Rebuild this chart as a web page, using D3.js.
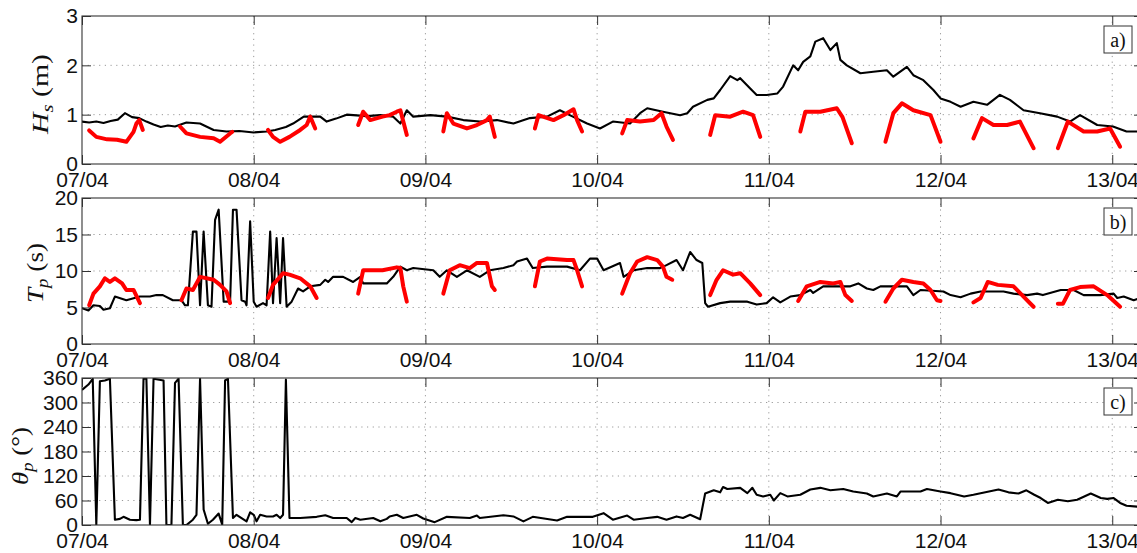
<!DOCTYPE html>
<html><head><meta charset="utf-8">
<script src="https://cdn.jsdelivr.net/npm/d3@7/dist/d3.min.js"></script>
<style>body{margin:0;background:#fff}svg{display:block}</style>
</head><body>
<svg id="chart" width="1137" height="553"></svg>
<script>
// time in hours since 07/04 00:00
const dayTicks = [0, 24, 48, 72, 96, 120, 144];
const dayLabels = ["07/04", "08/04", "09/04", "10/04", "11/04", "12/04", "13/04"];
const hsTicks = [0, 1, 2, 3];
const tpTicks = [0, 5, 10, 15, 20];
const thTicks = [0, 60, 120, 180, 240, 300, 360];
const panelTags = ["a)", "b)", "c)"];

// Panel a: Hs (m), black = model/offshore, red = measured segments
const hsBlack = [[0,0.86],[1,0.84],[2,0.86],[3,0.83],[4,0.87],[5,0.9],[6,1.03],[7,0.95],[8,0.93],[9,0.86],[10,0.8],[11,0.75],[12,0.78],[13,0.76],[14.6,0.84],[16.5,0.82],[18.4,0.69],[20.2,0.66],[22,0.67],[24,0.64],[25.8,0.66],[27,0.69],[28.5,0.75],[29.5,0.82],[31,0.96],[33.3,0.96],[34.2,0.86],[35.5,0.92],[37,1.0],[39.8,0.97],[41.7,0.99],[43.5,0.96],[44.5,0.82],[45.4,1.09],[46.3,0.96],[48.7,0.99],[51,0.96],[53.3,0.89],[55.6,0.86],[58,0.89],[60.3,0.82],[62.6,0.93],[65,0.96],[66.8,1.09],[68.6,0.96],[70.6,0.82],[72.4,0.72],[74.2,0.86],[76.6,0.82],[78,1.03],[79,1.13],[81.2,1.06],[83.6,0.99],[84.6,1.03],[85.4,1.16],[87.4,1.3],[88.3,1.33],[89.2,1.5],[90.6,1.78],[91.6,1.7],[92,1.74],[93.4,1.53],[94.3,1.4],[95.7,1.4],[97.2,1.43],[98,1.57],[99.4,2.0],[100.1,1.9],[100.8,2.07],[101.8,2.18],[102.5,2.48],[103.6,2.55],[104.6,2.31],[105.5,2.45],[106,2.11],[106.9,2.0],[108.8,1.84],[110.6,1.87],[112.5,1.9],[113.4,1.77],[115.3,1.97],[116.2,1.8],[117.6,1.7],[119,1.5],[120,1.33],[121.4,1.26],[122.8,1.16],[124.6,1.26],[126.5,1.2],[128.3,1.4],[129.7,1.3],[131.6,1.09],[133.9,1.03],[136.3,0.96],[138.1,0.86],[139.5,0.99],[141.9,0.79],[144.1,0.76],[146,0.66],[148.3,0.66]];
const hsRed = [
 [[1,0.68],[2,0.55],[3.5,0.5],[4.9,0.49],[6.2,0.45],[7.2,0.65],[7.6,0.82],[8,0.89],[8.5,0.69]],
 [[13.7,0.76],[14.6,0.62],[16.5,0.55],[18.4,0.52],[19.3,0.45],[20.7,0.62],[21,0.65]],
 [[26,0.69],[26.7,0.55],[27.7,0.45],[29,0.55],[30.5,0.69],[31.4,0.79],[31.9,0.96],[32.6,0.72]],
 [[38.6,0.79],[39.3,1.06],[40.3,0.89],[42,0.96],[43,0.99],[44,1.06],[44.5,1.09],[45.4,0.59]],
 [[50.5,0.66],[51,1.03],[51.9,0.82],[53.8,0.72],[55.2,0.79],[56.6,0.89],[57,0.96],[57.7,0.55]],
 [[63.3,0.72],[63.8,0.99],[65.9,0.89],[67.3,0.99],[68.7,1.11],[69.2,0.89],[69.9,0.66]],
 [[75.5,0.62],[76.2,0.89],[78,0.86],[79.9,0.89],[81,1.03],[81.7,0.76],[82.6,0.49]],
 [[87.8,0.59],[88.5,0.99],[90.6,0.96],[92.4,1.06],[93.8,0.99],[94.8,0.55]],
 [[100.4,0.66],[101.1,1.06],[103.2,1.06],[105.5,1.13],[106.3,0.95],[107.6,0.42]],
 [[112.3,0.45],[113.4,1.03],[114.6,1.23],[116.2,1.09],[118.6,0.99],[120,0.45]],
 [[124.6,0.52],[125.8,0.93],[127.4,0.79],[129.3,0.79],[131.1,0.86],[133,0.32]],
 [[136.4,0.32],[137.8,0.86],[140,0.66],[141.9,0.66],[143.7,0.72],[145.1,0.35]]
];

// Panel b: Tp (s)
const tpBlack = [[0,4.9],[0.9,4.6],[1.6,5.3],[2.5,5.2],[3,4.7],[3.9,4.9],[4.6,6.5],[6.2,6.0],[8.1,6.5],[9.5,6.5],[10.4,6.7],[11.3,6.7],[12.7,6.0],[13.9,6.0],[14.4,5.3],[14.8,5.3],[15.5,15.4],[16,15.4],[16.5,5.3],[17,15.4],[17.6,5.3],[18.1,5.1],[18.6,17],[19.1,18.4],[19.8,5.8],[20.7,5.8],[21.1,18.4],[21.6,18.4],[22.3,6.0],[22.8,5.8],[23,5.3],[23.5,16.8],[24,5.8],[24.4,5.1],[25.3,5.6],[25.8,5.3],[26.3,15.4],[26.7,5.6],[27.2,14.5],[27.7,5.6],[28.1,14.5],[28.6,5.1],[29.3,5.8],[30.2,7.6],[30.9,7.2],[31.9,7.9],[33.3,8.1],[34,8.8],[34.4,8.5],[35.1,9.2],[36.5,9.2],[37.9,8.5],[38.9,9.2],[39.3,8.3],[42.6,8.3],[43.5,9.2],[44.5,10.6],[45.4,10.1],[46.3,10.4],[49.1,10.1],[50,9.2],[51,10.1],[52.4,9.2],[53.8,10.1],[55.6,9.2],[57,10.1],[58.9,10.4],[60.3,10.8],[60.8,11.3],[62.2,11.7],[63,10.4],[65,10.6],[67.8,10.6],[69.6,10.1],[71,11.7],[72,11.7],[72.9,10.1],[75.2,11.1],[75.7,9.2],[77.1,10.1],[79,10.4],[80.8,10.4],[81.7,10.8],[83.1,11.5],[84,10.1],[85,12.6],[85.9,11.5],[86.7,11.1],[87.1,5.6],[87.5,5.1],[89.2,5.6],[90.6,5.8],[93,5.8],[94.3,5.4],[95.7,5.6],[96.6,6.4],[97.6,5.7],[99,6.5],[100.4,6.7],[101.8,7.4],[102.2,7.0],[103.6,7.9],[107.4,7.9],[108.5,8.3],[109.7,7.6],[110.6,7.4],[111.6,7.9],[115.3,7.9],[116.2,6.7],[117.2,7.4],[120.4,7.2],[121.4,6.7],[122.8,6.4],[124.2,6.9],[125.6,7.2],[128.8,7.2],[130.2,6.9],[132.1,6.7],[133.5,6.9],[134.3,6.7],[136.8,7.4],[138.6,7.4],[140,6.7],[142.3,6.7],[144.2,6.9],[144.7,6.3],[145.6,6.5],[147,6.0],[148.3,6.4]];
const tpRed = [
 [[1,5.3],[1.6,6.9],[2.5,7.9],[3.2,9.0],[3.9,8.5],[4.6,9.0],[5.6,8.3],[6.2,7.4],[7.2,7.4],[8.1,5.6]],
 [[13.9,6.0],[14.6,7.6],[15.5,7.4],[16.5,9.2],[18.4,8.8],[19.3,8.1],[20.2,7.2],[20.7,5.6]],
 [[26,6.3],[26.7,8.1],[28.1,9.7],[29,9.5],[30.5,9.0],[31.9,7.9],[32.8,6.3]],
 [[38.6,6.9],[39.3,10.1],[42,10.1],[44,10.5],[44.5,10.4],[44.9,7.9],[45.4,5.8]],
 [[50.5,6.9],[51.4,10.1],[52.8,10.8],[54.2,10.4],[55.2,11.1],[56.6,11.1],[57.3,7.9],[57.7,7.4]],
 [[63.3,7.9],[64,11.3],[65,11.7],[67.8,11.5],[68.7,11.5],[69.2,10.1],[69.9,7.9]],
 [[75.5,6.9],[76.6,9.7],[77.6,11.3],[79,11.9],[80.4,11.5],[81.2,10.6],[81.7,9.2],[82.5,8.8]],
 [[87.8,6.7],[88.7,8.8],[89.6,10.1],[91,9.5],[92,9.7],[93.4,8.3],[94.8,6.7]],
 [[100.1,5.9],[101.3,7.9],[103.2,8.5],[105,8.3],[106,8.5],[106.7,6.7],[107.6,5.9]],
 [[112.3,5.8],[113.4,7.6],[114.6,8.8],[116.2,8.5],[117.6,8.3],[118.6,7.4],[119.5,6.0],[120,5.9]],
 [[124.6,5.7],[125.6,6.3],[126.6,8.5],[128,8.1],[130.2,7.9],[131.6,6.5],[133,5.1]],
 [[136.4,5.5],[137.1,5.5],[138.1,7.4],[139.5,7.8],[141.4,7.9],[143.3,6.7],[145.1,5.1]]
];

// Panel c: theta_p (deg)
const thBlack = [[0,331],[0.9,344],[1.5,358],[2,0],[2.5,352],[3.2,354],[3.9,358],[4.6,13],[5.3,15],[5.8,20],[6.7,13],[7.6,12],[8.1,13],[8.6,358],[9,358],[9.5,0],[10,358],[11.4,354],[11.8,0],[12.5,0],[13,348],[13.5,358],[14.1,0],[14.6,0],[15.5,13],[16,25],[16.5,358],[17,38],[17.6,3],[18.3,13],[19.1,28],[19.6,1],[20,354],[20.4,358],[21.1,17],[21.6,25],[22.3,17],[23,9],[23.5,31],[24,25],[24.4,9],[24.9,25],[25.8,21],[26.7,21],[27.2,25],[27.7,17],[28.1,25],[28.5,356],[29,17],[30.5,17],[32.8,20],[34,24],[35.1,17],[37,17],[37.7,7],[38.2,17],[38.9,13],[40.7,17],[41.7,9],[42.6,15],[43,21],[44,25],[44.9,17],[46.8,25],[47.7,16],[49.3,7],[51,20],[54.2,17],[55.2,23],[55.6,17],[58.9,24],[60.3,21],[61.7,9],[63,20],[66.4,11],[67.8,20],[71.4,20],[72.9,29],[74.2,13],[76.2,23],[77.1,13],[79,17],[80.4,20],[81.7,13],[83.1,21],[84,17],[85,25],[86.4,14],[87.1,77],[88.3,85],[89.2,80],[89.6,93],[90.2,88],[92,91],[93,78],[93.7,91],[94.3,74],[95.2,70],[96.2,74],[96.7,60],[97.6,78],[98.6,70],[100.4,74],[101.8,87],[103.2,91],[104.6,85],[106.4,88],[107.8,82],[109.7,77],[110.6,70],[112.5,77],[113.9,70],[114.4,82],[117.2,82],[118.1,88],[120,82],[121.4,78],[123.3,70],[124.6,74],[128.1,87],[129.5,80],[130.9,77],[132,85],[133.1,74],[134,66],[135,54],[136.4,62],[137.8,58],[139.1,62],[141,77],[142.4,66],[143.3,64],[144.2,66],[145.1,54],[146,47],[148.3,44]];

const svg = d3.select("#chart");
const left = 82, right = 1143;
const x = d3.scaleLinear().domain([0, 148.3]).range([left, right]);

const panels = [
  {top:16, bottom:164, domain:[0,3], ticks:hsTicks, black:hsBlack, red:hsRed, label:["H","s"," (m)"], labelX:48, labelY:94, labelLen:80},
  {top:198, bottom:344, domain:[0,20], ticks:tpTicks, black:tpBlack, red:tpRed, label:["T","p"," (s)"], labelX:43, labelY:273, labelLen:60},
  {top:378, bottom:525, domain:[0,360], ticks:thTicks, black:thBlack, red:[], label:["θ","p"," (°)"], labelX:28, labelY:456, labelLen:58}
];

const sans = "'Liberation Sans', Arial, Helvetica, sans-serif";
const serif = "'Liberation Serif', 'Times New Roman', serif";
const tickLen = 9;

panels.forEach((p, i) => {
  const y = d3.scaleLinear().domain(p.domain).range([p.bottom, p.top]);
  const g = svg.append("g");
  const clipId = "clip" + i;
  svg.append("clipPath").attr("id", clipId).append("rect")
    .attr("x", left).attr("y", p.top).attr("width", right - left).attr("height", p.bottom - p.top);

  // grid
  const grid = g.append("g").attr("stroke", "#9a9a9a").attr("stroke-width", 1).attr("stroke-dasharray", "1.2,4.5");
  p.ticks.slice(1, -1).forEach(t => {
    grid.append("line").attr("x1", left).attr("x2", right).attr("y1", y(t)).attr("y2", y(t));
  });
  dayTicks.slice(1).forEach(t => {
    grid.append("line").attr("x1", x(t)).attr("x2", x(t)).attr("y1", p.top).attr("y2", p.bottom);
  });

  // data
  const line = d3.line().x(d => x(d[0])).y(d => y(d[1]));
  const data = g.append("g").attr("clip-path", `url(#${clipId})`);
  data.append("path").datum(p.black).attr("d", line)
    .attr("fill", "none").attr("stroke", "#000").attr("stroke-width", 2.1).attr("stroke-linejoin", "round");
  p.red.forEach(seg => {
    data.append("path").datum(seg).attr("d", line)
      .attr("fill", "none").attr("stroke", "#ff0000").attr("stroke-width", 4).attr("stroke-linejoin", "round").attr("stroke-linecap", "round");
  });

  // axes: inward ticks on all sides
  const axB = d3.axisBottom(x).tickValues(dayTicks).tickFormat((d, k) => dayLabels[k]).tickSizeInner(-tickLen).tickSizeOuter(0).tickPadding(8);
  const axT = d3.axisTop(x).tickValues(dayTicks).tickFormat("").tickSizeInner(-tickLen).tickSizeOuter(0);
  const axL = d3.axisLeft(y).tickValues(p.ticks).tickFormat(d3.format("d")).tickSizeInner(-tickLen).tickSizeOuter(0).tickPadding(4);
  const axR = d3.axisRight(y).tickValues(p.ticks).tickFormat("").tickSizeInner(-tickLen).tickSizeOuter(0);

  const gb = g.append("g").attr("transform", `translate(0,${p.bottom})`).call(axB);
  const gt = g.append("g").attr("transform", `translate(0,${p.top})`).call(axT);
  const gl = g.append("g").attr("transform", `translate(${left},0)`).call(axL);
  const gr = g.append("g").attr("transform", `translate(${right},0)`).call(axR);
  [gb, gt, gl, gr].forEach(a => {
    a.select(".domain").remove();
    a.selectAll(".tick line").attr("stroke", "#333").attr("stroke-width", 1);
    a.selectAll("text").attr("font-family", sans).attr("font-size", 21).attr("fill", "#111");
  });

  // frame
  g.append("rect").attr("x", left).attr("y", p.top).attr("width", right - left).attr("height", p.bottom - p.top)
    .attr("fill", "none").attr("stroke", "#333").attr("stroke-width", 1.1);

  // y label (stretched along its direction to match reference length)
  const lg = g.append("g");
  const lab = lg.append("text")
    .attr("text-anchor", "middle").attr("font-family", serif).attr("font-size", 23).attr("fill", "#111");
  lab.append("tspan").attr("font-style", "italic").text(p.label[0]);
  lab.append("tspan").attr("font-style", "italic").attr("font-size", 16).attr("dy", 5).text(p.label[1]);
  lab.append("tspan").attr("dy", -5).text(p.label[2]);
  const natural = lab.node().getComputedTextLength() || p.labelLen;
  const k = p.labelLen / natural;
  lg.attr("transform", `translate(${p.labelX},${p.labelY}) rotate(-90) scale(${k},1)`);

  // panel tag box
  const bx = 1104, by = p.top + 10, bw = 28, bh = 27;
  g.append("rect").attr("x", bx).attr("y", by).attr("width", bw).attr("height", bh)
    .attr("fill", "#fff").attr("stroke", "#333").attr("stroke-width", 1);
  g.append("text").attr("x", bx + bw / 2).attr("y", by + bh / 2).attr("dy", "0.35em")
    .attr("text-anchor", "middle").attr("font-family", serif).attr("font-size", 20).attr("fill", "#111").text(panelTags[i]);
});
</script>
</body></html>
